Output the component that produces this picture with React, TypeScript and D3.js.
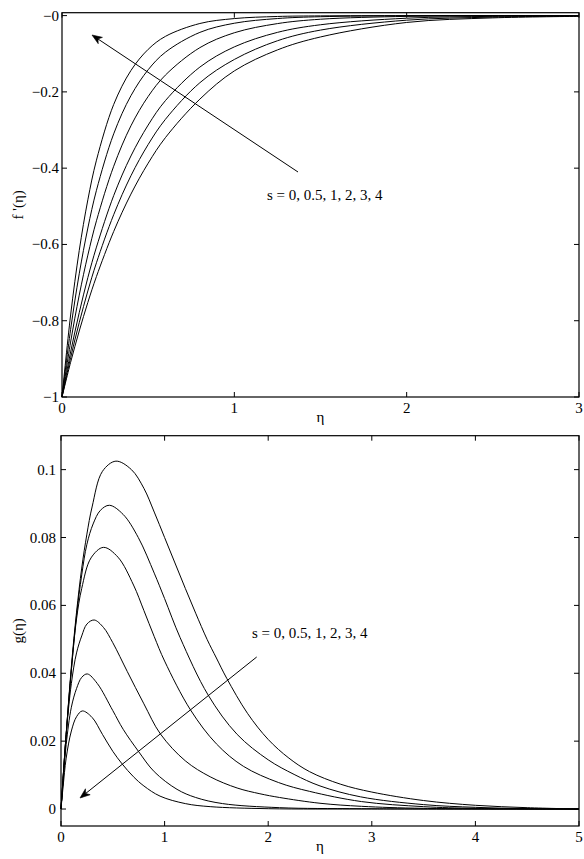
import React from 'react';
import * as d3 from 'd3';

// ---------- Top panel: f'(eta) ----------
const topEta = [0, 0.05, 0.1, 0.15, 0.2, 0.3, 0.4, 0.5, 0.6, 0.8, 1.0, 1.25, 1.5, 2.0, 2.5, 3.0];
const fS0 = [-1, -0.909, -0.827, -0.752, -0.684, -0.566, -0.468, -0.387, -0.32, -0.219, -0.145, -0.09, -0.056, -0.018, -0.006, -0.002];
const fS05 = [-1, -0.897, -0.805, -0.722, -0.648, -0.522, -0.42, -0.338, -0.272, -0.176, -0.115, -0.066, -0.038, -0.012, -0.004, -0.001];
const fS1 = [-1, -0.882, -0.779, -0.687, -0.607, -0.472, -0.368, -0.287, -0.223, -0.135, -0.082, -0.044, -0.024, -0.0068, -0.002, -0.0005];
const fS2 = [-1, -0.856, -0.733, -0.628, -0.538, -0.395, -0.289, -0.212, -0.156, -0.084, -0.045, -0.021, -0.0095, -0.002, -0.0004, 0];
const fS3 = [-1, -0.823, -0.677, -0.557, -0.458, -0.31, -0.21, -0.142, -0.096, -0.044, -0.02, -0.0077, -0.0029, -0.0004, -0.0001, 0];
const fS4 = [-1, -0.785, -0.616, -0.483, -0.379, -0.233, -0.144, -0.0885, -0.0545, -0.0207, -0.0078, -0.0023, -0.0007, -0.0001, 0, 0];
const topSeries = [fS0, fS05, fS1, fS2, fS3, fS4];

const topXTicks = [0, 1, 2, 3];
const topYTicks = [-1, -0.8, -0.6, -0.4, -0.2, 0];
const topYTickLabels = ['\u22121', '\u22120.8', '\u22120.6', '\u22120.4', '\u22120.2', '\u22120'];

// ---------- Bottom panel: g(eta) as [eta, g] pairs ----------
const gS0: [number, number][] = [[0, 0], [0.02, 0.009], [0.05, 0.022], [0.1, 0.042], [0.15, 0.058], [0.2, 0.071], [0.25, 0.081], [0.3, 0.089], [0.4, 0.0995], [0.53, 0.1025], [0.68, 0.1], [0.8, 0.0945], [0.9, 0.0875], [1.0, 0.08], [1.1, 0.0725], [1.2, 0.065], [1.3, 0.0577], [1.41, 0.05], [1.5, 0.0445], [1.6, 0.0385], [1.8, 0.0282], [2.0, 0.0205], [2.2, 0.015], [2.4, 0.011], [2.7, 0.0073], [3.0, 0.005], [3.5, 0.0025], [4.0, 0.0011], [4.5, 0.0004], [5, 0]];
const gS05: [number, number][] = [[0, 0], [0.02, 0.009], [0.05, 0.022], [0.1, 0.041], [0.15, 0.057], [0.2, 0.069], [0.25, 0.078], [0.31, 0.084], [0.38, 0.088], [0.467, 0.0895], [0.6, 0.0868], [0.746, 0.08], [0.9, 0.0695], [1.0, 0.062], [1.15, 0.0505], [1.42, 0.0336], [1.7, 0.022], [2.0, 0.0145], [2.25, 0.0102], [2.5, 0.0068], [2.89, 0.0036], [3.5, 0.0013], [4, 0.0005], [4.5, 0.0001], [5, 0]];
const gS1: [number, number][] = [[0, 0], [0.02, 0.009], [0.05, 0.022], [0.1, 0.041], [0.15, 0.056], [0.2, 0.065], [0.29, 0.074], [0.41, 0.0771], [0.55, 0.0742], [0.7, 0.066], [0.8, 0.0585], [0.9, 0.0508], [1.0, 0.0436], [1.25, 0.0292], [1.5, 0.0192], [1.76, 0.0126], [2.1, 0.0078], [2.4, 0.0052], [2.9, 0.0022], [3.5, 0.0007], [4, 0.0002], [5, 0]];
const gS2: [number, number][] = [[0, 0], [0.02, 0.009], [0.05, 0.022], [0.1, 0.037], [0.15, 0.046], [0.2, 0.051], [0.25, 0.0545], [0.32, 0.0557], [0.41, 0.0535], [0.5, 0.049], [0.64, 0.0405], [0.8, 0.031], [0.96, 0.0221], [1.2, 0.0142], [1.44, 0.0095], [1.7, 0.0062], [1.92, 0.0045], [2.11, 0.0034], [2.5, 0.0017], [2.9, 0.0008], [3.5, 0.0002], [5, 0]];
const gS3: [number, number][] = [[0, 0], [0.02, 0.008], [0.05, 0.019], [0.1, 0.03], [0.15, 0.0355], [0.2, 0.0388], [0.254, 0.0398], [0.35, 0.037], [0.5, 0.029], [0.6, 0.0235], [0.75, 0.0169], [0.9, 0.011], [1.12, 0.0058], [1.3, 0.0034], [1.56, 0.0016], [2.11, 0.0004], [2.9, 0.0001], [5, 0]];
const gS4: [number, number][] = [[0, 0], [0.02, 0.0065], [0.05, 0.015], [0.1, 0.023], [0.15, 0.0272], [0.206, 0.0289], [0.3, 0.027], [0.4, 0.022], [0.5, 0.017], [0.59, 0.0133], [0.7, 0.0095], [0.8, 0.0068], [0.956, 0.0038], [1.2, 0.0016], [1.44, 0.0007], [2, 0.0001], [3, 0], [5, 0]];
const bottomSeries = [gS0, gS05, gS1, gS2, gS3, gS4];

const botXTicks = [0, 1, 2, 3, 4, 5];
const botYTicks = [0, 0.02, 0.04, 0.06, 0.08, 0.1];
const botYTickLabels = ['0', '0.02', '0.04', '0.06', '0.08', '0.1'];

const annotation = 's = 0, 0.5, 1, 2, 3, 4';

const FONT = '"Liberation Serif", "Times New Roman", serif';
const FS = 15;
const TICK = 5;

function Arrow({ x1, y1, x2, y2 }: { x1: number; y1: number; x2: number; y2: number }) {
  const dx = x2 - x1, dy = y2 - y1;
  const len = Math.hypot(dx, dy);
  const ux = dx / len, uy = dy / len;
  const nx = -uy, ny = ux;
  const L = 10, Wd = 3.8;
  const bx = x2 - L * ux, by = y2 - L * uy;
  const mx = x2 - 0.72 * L * ux, my = y2 - 0.72 * L * uy;
  const head = `M${x2},${y2}L${bx + Wd * nx},${by + Wd * ny}L${mx},${my}L${bx - Wd * nx},${by - Wd * ny}Z`;
  return (
    <g>
      <line x1={x1} y1={y1} x2={mx} y2={my} stroke="#000" strokeWidth={1} />
      <path d={head} fill="#000" stroke="#000" strokeWidth={0.6} />
    </g>
  );
}

function Panel(props: {
  x: d3.ScaleLinear<number, number>;
  y: d3.ScaleLinear<number, number>;
  xTicks: number[];
  yTicks: number[];
  yLabels: string[];
  yLabelGap: number;
  ylabel: string;
  lines: string[];
}) {
  const { x, y, xTicks, yTicks, yLabels, yLabelGap, ylabel, lines } = props;
  const [x0, x1] = x.range();
  const [yb, yt] = y.range();
  return (
    <g>
      {lines.map((d, i) => (
        <path key={i} d={d} fill="none" stroke="#000" strokeWidth={1} />
      ))}
      <rect x={x0} y={yt} width={x1 - x0} height={yb - yt} fill="none" stroke="#000" strokeWidth={1.2} />
      {xTicks.map((t) => (
        <g key={'x' + t}>
          <line x1={x(t)} x2={x(t)} y1={yb} y2={yb - TICK} stroke="#000" strokeWidth={1} />
          <line x1={x(t)} x2={x(t)} y1={yt} y2={yt + TICK} stroke="#000" strokeWidth={1} />
          <text x={x(t)} y={yb + 16} textAnchor="middle" fontFamily={FONT} fontSize={FS}>{String(t)}</text>
        </g>
      ))}
      {yTicks.map((t, i) => (
        <g key={'y' + t}>
          <line x1={x0} x2={x0 + TICK} y1={y(t)} y2={y(t)} stroke="#000" strokeWidth={1} />
          <line x1={x1} x2={x1 - TICK} y1={y(t)} y2={y(t)} stroke="#000" strokeWidth={1} />
          <text x={x0 - yLabelGap} y={y(t) + 5} textAnchor="end" fontFamily={FONT} fontSize={FS}>{yLabels[i]}</text>
        </g>
      ))}
      <text x={(x0 + x1) / 2} y={yb + 25} textAnchor="middle" fontFamily={FONT} fontSize={FS}>η</text>
      <text transform={`translate(23,${(yt + yb) / 2}) rotate(-90)`} textAnchor="middle" fontFamily={FONT} fontSize={FS}>{ylabel}</text>
    </g>
  );
}

export default function App() {
  const xTop = d3.scaleLinear().domain([0, 3]).range([62, 579]);
  const yTop = d3.scaleLinear().domain([-1, 0.0076]).range([397, 12.7]);
  const topLine = d3
    .line<number>()
    .x((_, i) => xTop(topEta[i]))
    .y((v) => yTop(v))
    .curve(d3.curveCatmullRom.alpha(0.5));
  const topPaths = topSeries.map((s) => topLine(s) as string);

  const xBot = d3.scaleLinear().domain([0, 5]).range([61, 579]);
  const yBot = d3.scaleLinear().domain([-0.005, 0.11]).range([826, 435.7]);
  const botLine = d3
    .line<[number, number]>()
    .x((d) => xBot(d[0]))
    .y((d) => yBot(d[1]))
    .curve(d3.curveCatmullRom.alpha(0.5));
  const botPaths = bottomSeries.map((s) => botLine(s) as string);

  return (
    <svg width={584} height={859} style={{ position: 'absolute', left: 0, top: 0, background: '#fff' }}>
      <rect x={0} y={0} width={584} height={859} fill="#fff" />
      <Panel x={xTop} y={yTop} xTicks={topXTicks} yTicks={topYTicks} yLabels={topYTickLabels} yLabelGap={3} ylabel="f '(η)" lines={topPaths} />
      <Panel x={xBot} y={yBot} xTicks={botXTicks} yTicks={botYTicks} yLabels={botYTickLabels} yLabelGap={5} ylabel="g(η)" lines={botPaths} />
      <Arrow x1={298} y1={172} x2={92} y2={35} />
      <text x={267} y={200} fontFamily={FONT} fontSize={FS}>{annotation}</text>
      <Arrow x1={256.7} y1={657} x2={80} y2={798} />
      <text x={252} y={638} fontFamily={FONT} fontSize={FS}>{annotation}</text>
    </svg>
  );
}
